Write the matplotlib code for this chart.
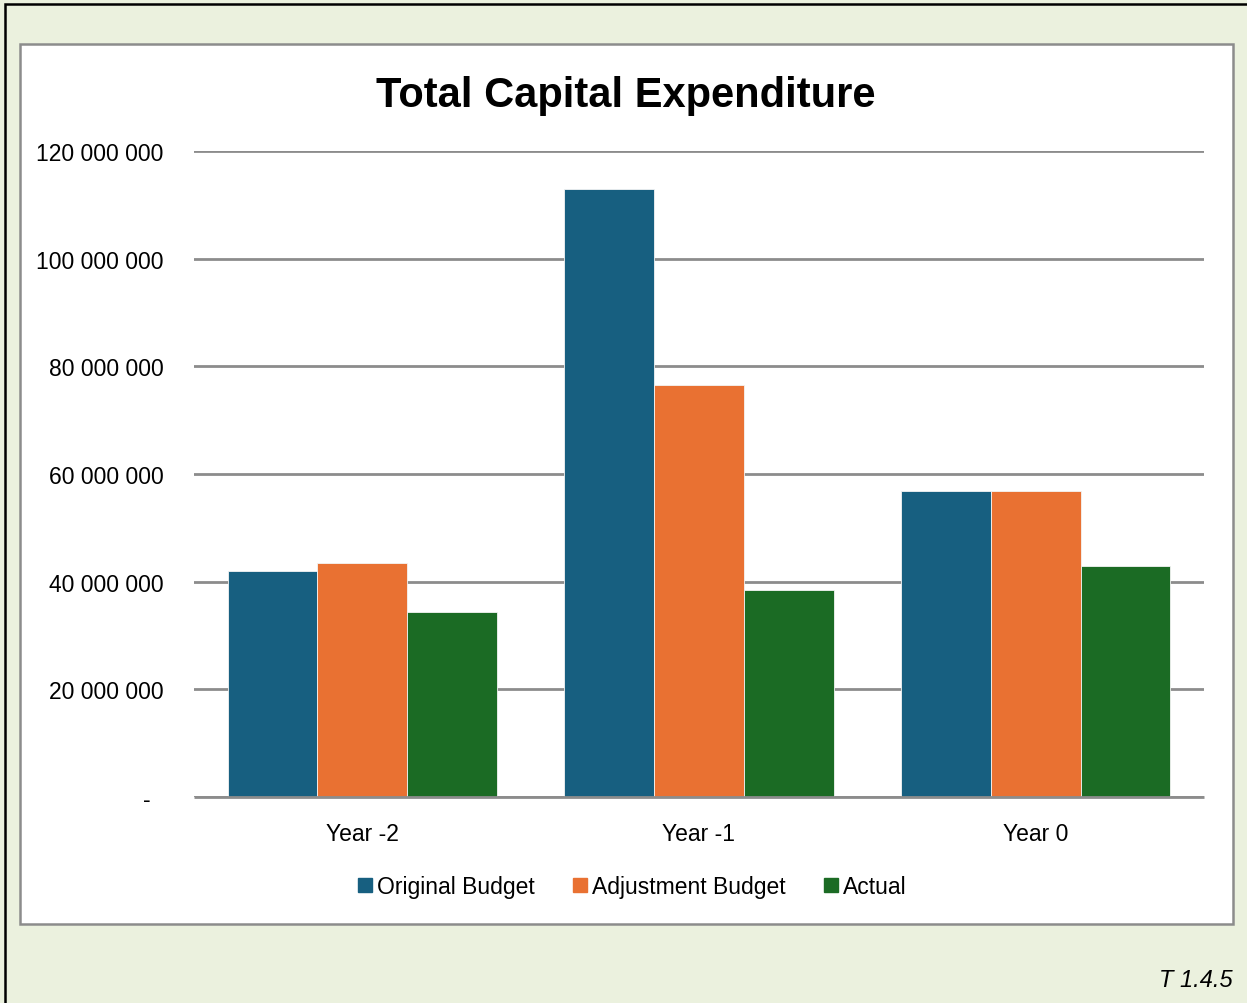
import matplotlib
matplotlib.use("Agg")
import matplotlib.pyplot as plt
from matplotlib.lines import Line2D
from matplotlib.patches import Rectangle
from matplotlib.ticker import FuncFormatter
import numpy as np

years = ["Year -2", "Year -1", "Year 0"]
original_budget = [42.0e6, 113.0e6, 56.8e6]
adjustment_budget = [43.5e6, 76.5e6, 56.9e6]
actual = [34.4e6, 38.5e6, 42.9e6]

series_names = ["Original Budget", "Adjustment Budget", "Actual"]
colors = ["#175F80", "#E97132", "#1B6B24"]

plt.rcParams["font.family"] = ["Liberation Sans", "DejaVu Sans"]

W, H = 1247, 1004
fig = plt.figure(figsize=(W / 100, H / 100), dpi=100)
fig.patch.set_facecolor("#EBF1DE")

# outer black frame and inner white panel, kept behind the axes
fig.add_artist(Rectangle((5 / W, -0.1), 1.2, (H - 5) / H + 0.1, transform=fig.transFigure,
                         facecolor="none", edgecolor="black", linewidth=1.8, zorder=-2))
fig.add_artist(Rectangle((20 / W, (H - 925) / H), 1213 / W, 880 / H, transform=fig.transFigure,
                         facecolor="white", edgecolor="#8C8C8C", linewidth=1.8, zorder=-1))

ax = fig.add_axes([194 / W, (H - 798) / H, 1010 / W, 646 / H])
ax.set_facecolor("none")

x = np.arange(len(years))
width = 0.8 / 3
for i, (vals, name, c) in enumerate(zip([original_budget, adjustment_budget, actual], series_names, colors)):
    ax.bar(x + (i - 1) * width, vals, width, color=c, label=name,
           edgecolor="#F4F4F4", linewidth=0.6, zorder=3)

ax.set_xlim(-0.5, 2.5)
ax.set_ylim(0, 120e6)
ax.set_yticks(np.arange(0, 120e6 + 1, 20e6))


def fmt(v, pos):
    # accounting style: zero shown as a dash
    if v == 0:
        return "-  "
    return f"{int(v):,}".replace(",", " ")


ax.yaxis.set_major_formatter(FuncFormatter(fmt))
ax.set_xticks(x)
ax.set_xticklabels(years)
ax.grid(axis="y", color="#8C8C8C", linewidth=2, zorder=0)
ax.axhline(0, color="#8C8C8C", linewidth=2, zorder=4, clip_on=False, solid_capstyle="butt")
ax.set_axisbelow(True)
for s in ["top", "right", "left", "bottom"]:
    ax.spines[s].set_visible(False)
ax.tick_params(axis="both", length=0, labelsize=16.5)
ax.tick_params(axis="y", pad=22)
ax.tick_params(axis="x", pad=18)

fig.text(626 / W, (H - 96) / H, "Total Capital Expenditure", ha="center", va="center",
         fontsize=30, fontweight="bold")

handles = [Line2D([], [], marker="s", linestyle="none", markersize=10, color=c) for c in colors]
fig.legend(handles, series_names, loc="center", bbox_to_anchor=(631 / W, (H - 888) / H),
           ncol=3, frameon=False, fontsize=16.5, handletextpad=0.1, columnspacing=1.6,
           handlelength=0.8)

fig.text(1233 / W, (H - 981) / H, "T 1.4.5", ha="right", va="center", fontsize=17,
         style="italic")

fig.savefig("out.png", dpi=100, facecolor=fig.get_facecolor())
